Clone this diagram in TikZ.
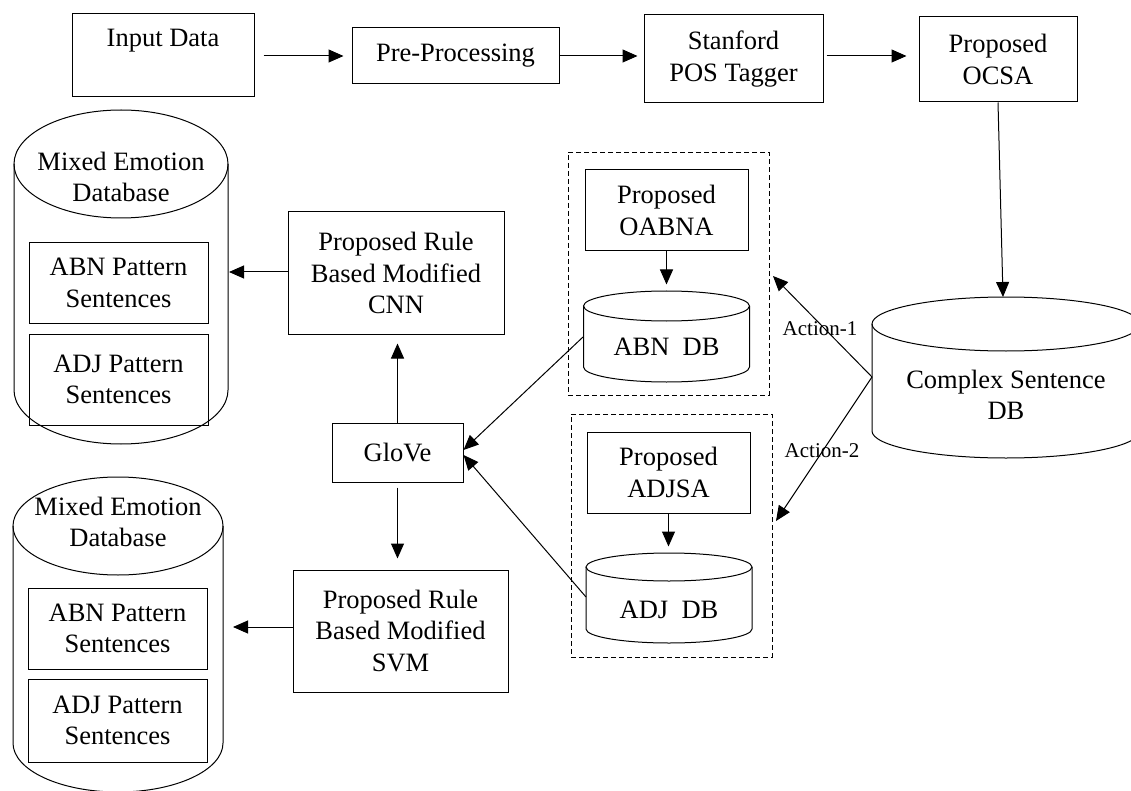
\documentclass[tikz,border=0pt]{standalone}
\usepackage{fontspec}
\setmainfont{Liberation Serif}
\usetikzlibrary{arrows.meta}
\tikzset{
  box/.style={draw, line width=1pt, inner sep=0pt, align=center, font=\fontsize{26.5}{31.5}\selectfont},
  txt/.style={inner sep=0pt, align=center, font=\fontsize{26.5}{31.5}\selectfont},
  small/.style={inner sep=0pt, font=\fontsize{21}{24}\selectfont},
  arr/.style={line width=1pt, -{Triangle[length=15pt,width=13pt]}},
  dbox/.style={draw, line width=0.9pt, dash pattern=on 5pt off 3pt, inner sep=0pt},
  cyl/.style={line width=1pt},
}
% cx, rx, y of top ellipse centre, ry, y of bottom ellipse centre
\newcommand{\mycyl}[5]{%
  \draw[cyl] (#1-#2,#3) -- (#1-#2,#5) arc[start angle=180,end angle=0,x radius=#2,y radius=#4] -- (#1+#2,#3);
  \draw[cyl] (#1,#3) ellipse[x radius=#2,y radius=#4];}
\begin{document}
\begin{tikzpicture}[x=1pt,y=-1pt]
\clip (0,0) rectangle (1131,791);
\fill[white] (0,0) rectangle (1131,791);

% top row
\node[box, minimum width=182pt, minimum height=83pt] (input) at (163,55.5) {};
\node[txt] (inputtxt) at (163,41) {Input Data};
\node[box, minimum width=207pt, minimum height=56pt] (pre) at (455.5,56) {Pre-Processing};
\node[box, minimum width=179pt, minimum height=88pt] (stan) at (733.5,59) {Stanford\\POS Tagger};
\node[box, minimum width=158pt, minimum height=85pt] (ocsa) at (998,59.5) {Proposed\\OCSA};

% dashed groups
\node[dbox, minimum width=201pt, minimum height=243pt] (dash1) at (668.5,273.5) {};
\node[dbox, minimum width=201pt, minimum height=243pt] (dash2) at (671.5,535.5) {};

\node[box, minimum width=163pt, minimum height=81pt] (oabna) at (666.5,210.5) {Proposed\\OABNA};
\node[box, minimum width=163pt, minimum height=81pt] (adjsa) at (668.5,472.5) {Proposed\\ADJSA};

% small DB cylinders
\mycyl{666.5}{83}{306}{15}{367}
\node[txt] (abndb) at (666.5,347) {ABN\ \ DB};
\mycyl{669}{83}{567}{14}{629}
\node[txt] (adjdb) at (669,610) {ADJ\ \ DB};

% complex sentence DB
\mycyl{1006}{134}{324}{27}{431}
\node[txt] (complex) at (1006,395) {Complex Sentence\\DB};

% middle column
\node[box, minimum width=216pt, minimum height=122pt] (cnn) at (396,273) {Proposed Rule\\Based Modified\\CNN};
\node[box, minimum width=131pt, minimum height=59pt] (glove) at (397.5,452.5) {GloVe};
\node[box, minimum width=215pt, minimum height=122pt] (svm) at (400.5,631) {Proposed Rule\\Based Modified\\SVM};

% left cylinders
\mycyl{121}{107}{164}{54}{390}
\node[txt] (med1) at (121,177) {Mixed Emotion\\Database};
\node[box, minimum width=179pt, minimum height=80pt] (abn1) at (118.5,283) {ABN Pattern\\Sentences};
\node[box, minimum width=179pt, minimum height=91pt] (adj1) at (118.5,379.5) {ADJ Pattern\\Sentences};

\mycyl{118}{105}{526}{49}{743}
\node[txt] (med2) at (118,522) {Mixed Emotion\\Database};
\node[box, minimum width=179pt, minimum height=81pt] (abn2) at (117.5,628.5) {ABN Pattern\\Sentences};
\node[box, minimum width=179pt, minimum height=83pt] (adj2) at (117.5,720.5) {ADJ Pattern\\Sentences};

% connector end points
\coordinate (cxtop) at (1003,297);
\coordinate (cxw) at (872,377);
\coordinate (a1tip) at (773,276);
\coordinate (a2tip) at (776,521);
\coordinate (abnw) at (583,337);
\coordinate (adjw) at (586,597);
\coordinate (c1e) at (229,272);
\coordinate (c2e) at (233,627);

% connectors
\draw[arr, shorten <=9pt, shorten >=8pt] (input.east |- pre.west) -- (pre.west);
\draw[arr, shorten >=6pt] (pre.east) -- (pre.east -| stan.west);
\draw[arr, shorten <=3pt, shorten >=12pt] (stan.east |- pre.east) -- (ocsa.west |- pre.east);
\draw[arr] (ocsa.south) -- (cxtop);
\draw[arr] (cxw) -- (a1tip);
\draw[arr] (cxw) -- (a2tip);
\draw[arr] (oabna.south) -- ++(0,33);
\draw[arr] (adjsa.south) -- ++(0,33);
\draw[arr] (abnw) -- ([yshift=2.5pt]glove.east);
\draw[arr] (adjw) -- ([yshift=-2.5pt]glove.east);
\draw[arr, shorten >=9pt] (glove.north) -- (glove.north |- cnn.south);
\draw[arr, shorten <=5pt, shorten >=11pt] (glove.south) -- (glove.south |- svm.north);
\draw[arr] (cnn.west |- c1e) -- (c1e);
\draw[arr] (svm.west |- c2e) -- (c2e);

% action labels
\node[small] (act1) at (820,329) {Action-1};
\node[small] (act2) at (822,451) {Action-2};
\end{tikzpicture}
\end{document}
